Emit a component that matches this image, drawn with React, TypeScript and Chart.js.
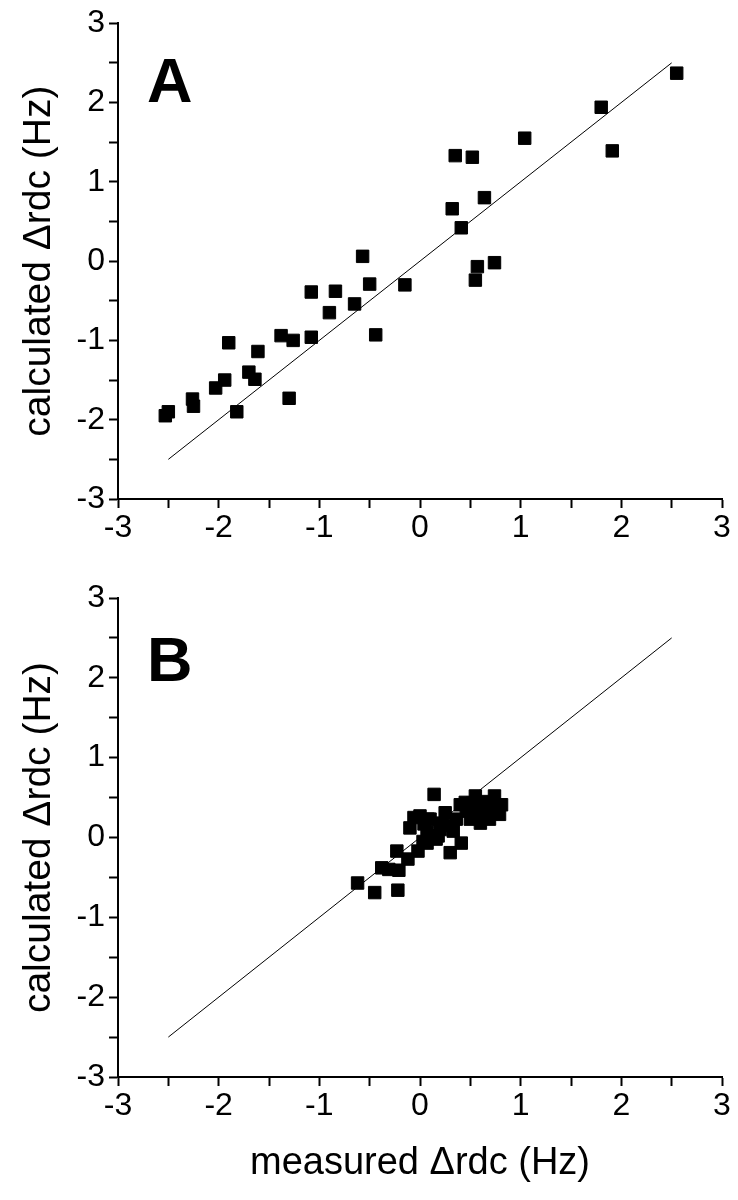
import React, { useEffect, useRef } from "react";
import { Chart, registerables } from "chart.js";

Chart.register(...registerables);

// Panel A data: measured vs calculated Δrdc (Hz)
const aMeasured = [2.55, 1.80, 1.91, 1.04, 0.35, 0.52, 0.64, 0.32, 0.41, -0.57, 0.57, 0.74, 0.55, -0.50, -0.15, -1.08, -0.84, -0.65, -0.90, -1.38, -1.26, -1.08, -0.44, -1.90, -1.61, -1.70, -1.64, -1.94, -2.03, -2.26, -2.25, -1.30, -1.82, -2.50, -2.53];
const aCalculated = [2.37, 1.94, 1.39, 1.55, 1.33, 1.31, 0.80, 0.66, 0.42, 0.06, -0.07, -0.02, -0.24, -0.29, -0.30, -0.39, -0.38, -0.54, -0.65, -0.94, -1.00, -0.96, -0.93, -1.03, -1.14, -1.40, -1.49, -1.50, -1.60, -1.74, -1.83, -1.73, -1.90, -1.90, -1.95];

// Panel B data
const bMeasured = [-0.62, -0.45, -0.22, -0.38, -0.31, -0.21, -0.23, -0.12, -0.02, -0.06, -0.10, 0.14, 0.08, 0.07, 0.03, 0.16, 0.55, 0.74, 0.40, 0.46, 0.79, 0.60, 0.69, 0.25, 0.10, 0.20, 0.33, 0.41, 0.30, 0.07, 0.00, 0.64, 0.81, 0.50, 0.36, 0.12, 0.22, 0.28, 0.45, 0.52, 0.58, 0.66, 0.72, 0.18, 0.04];
const bCalculated = [-0.57, -0.69, -0.66, -0.38, -0.40, -0.41, -0.17, -0.27, -0.17, 0.25, 0.12, 0.54, 0.23, 0.06, -0.05, -0.02, 0.52, 0.52, 0.41, 0.33, 0.29, 0.18, 0.23, 0.31, 0.23, 0.10, 0.08, -0.07, -0.19, -0.07, 0.27, 0.37, 0.41, 0.23, 0.23, 0.02, 0.18, 0.15, 0.44, 0.43, 0.30, 0.45, 0.38, 0.02, 0.17];

// Identity line endpoints
const lineX = [-2.5, 2.5];
const lineY = [-2.5, 2.5];

const axisMin = -3;
const axisMax = 3;
const tickStep = 0.5;

const yTitle = "calculated \u0394rdc (Hz)";
const xTitle = "measured \u0394rdc (Hz)";

const FONT = "'Liberation Sans', Arial, Helvetica, sans-serif";

const panelLabelPlugin = {
  id: "panelLabel",
  afterDraw(chart: any, _args: any, opts: any) {
    if (!opts || !opts.text) return;
    const { ctx, chartArea } = chart;
    ctx.save();
    ctx.fillStyle = "#000";
    ctx.font = `bold ${opts.size}px ${FONT}`;
    ctx.textBaseline = "alphabetic";
    ctx.textAlign = "left";
    ctx.fillText(opts.text, chartArea.left + opts.dx, chartArea.top + opts.dy);
    ctx.restore();
  },
};

function makeConfig(
  mx: number[],
  cy: number[],
  label: string,
  labelDy: number,
  showXTitle: boolean,
  padTop: number,
  xAxisHeight: number
) {
  const pts = mx.map((x, i) => ({ x, y: cy[i] }));
  const linePts = lineX.map((x, i) => ({ x, y: lineY[i] }));
  const gridOpts = {
    drawOnChartArea: false,
    drawTicks: true,
    tickLength: 9,
    tickWidth: 2,
    tickColor: "#000",
    color: "#000",
  };
  const tickCb = (v: any) => {
    const n = Number(v);
    return Math.abs(n - Math.round(n)) < 1e-6 ? String(Math.round(n)) : "";
  };
  return {
    type: "scatter",
    data: {
      datasets: [
        {
          type: "line",
          data: linePts,
          borderColor: "#000",
          borderWidth: 1,
          pointRadius: 0,
          fill: false,
          order: 2,
        },
        {
          type: "scatter",
          data: pts,
          pointStyle: "rect",
          pointRadius: 8.8,
          backgroundColor: "#000",
          borderColor: "#000",
          borderWidth: 1,
          order: 1,
        },
      ],
    },
    options: {
      responsive: false,
      animation: false,
      devicePixelRatio: 1,
      layout: { padding: { top: padTop, right: 16, left: 0, bottom: 0 } },
      plugins: {
        legend: { display: false },
        tooltip: { enabled: false },
        panelLabel: { text: label, size: 63, dx: 29, dy: labelDy },
      },
      scales: {
        x: {
          type: "linear",
          min: axisMin,
          max: axisMax,
          border: { display: true, color: "#000", width: 2 },
          grid: gridOpts,
          ticks: {
            stepSize: tickStep,
            autoSkip: false,
            maxRotation: 0,
            color: "#000",
            padding: 1,
            font: { family: FONT, size: 32 },
            callback: tickCb,
          },
          title: {
            display: showXTitle,
            text: xTitle,
            color: "#000",
            font: { family: FONT, size: 38 },
            padding: { top: 0, bottom: 14 },
          },
          afterFit: (scale: any) => {
            scale.height = xAxisHeight;
          },
        },
        y: {
          type: "linear",
          min: axisMin,
          max: axisMax,
          border: { display: true, color: "#000", width: 2 },
          grid: gridOpts,
          ticks: {
            stepSize: tickStep,
            autoSkip: false,
            color: "#000",
            padding: 4,
            font: { family: FONT, size: 32 },
            callback: tickCb,
          },
          title: {
            display: true,
            text: yTitle,
            color: "#000",
            font: { family: FONT, size: 39 },
            padding: { top: 16, bottom: 0 },
          },
          afterFit: (scale: any) => {
            scale.width = 118;
          },
        },
      },
    },
    plugins: [panelLabelPlugin],
  };
}

function Panel(props: {
  mx: number[];
  cy: number[];
  label: string;
  labelDy: number;
  showXTitle: boolean;
  top: number;
  height: number;
  padTop: number;
  xAxisHeight: number;
}) {
  const ref = useRef<HTMLCanvasElement | null>(null);
  useEffect(() => {
    if (!ref.current) return;
    const chart = new Chart(
      ref.current,
      makeConfig(props.mx, props.cy, props.label, props.labelDy, props.showXTitle, props.padTop, props.xAxisHeight) as any
    );
    return () => chart.destroy();
  }, []);
  return (
    <canvas
      ref={ref}
      width={738}
      height={props.height}
      style={{ position: "absolute", left: 0, top: props.top, width: 738, height: props.height }}
    />
  );
}

export default function App() {
  return (
    <div style={{ position: "absolute", left: 0, top: 0, width: 738, height: 1200, background: "#fff" }}>
      <Panel mx={aMeasured} cy={aCalculated} label="A" labelDy={79} showXTitle={false} top={0} height={545} padTop={20} xAxisHeight={46} />
      <Panel mx={bMeasured} cy={bCalculated} label="B" labelDy={83} showXTitle={true} top={545} height={655} padTop={53} xAxisHeight={123} />
    </div>
  );
}
